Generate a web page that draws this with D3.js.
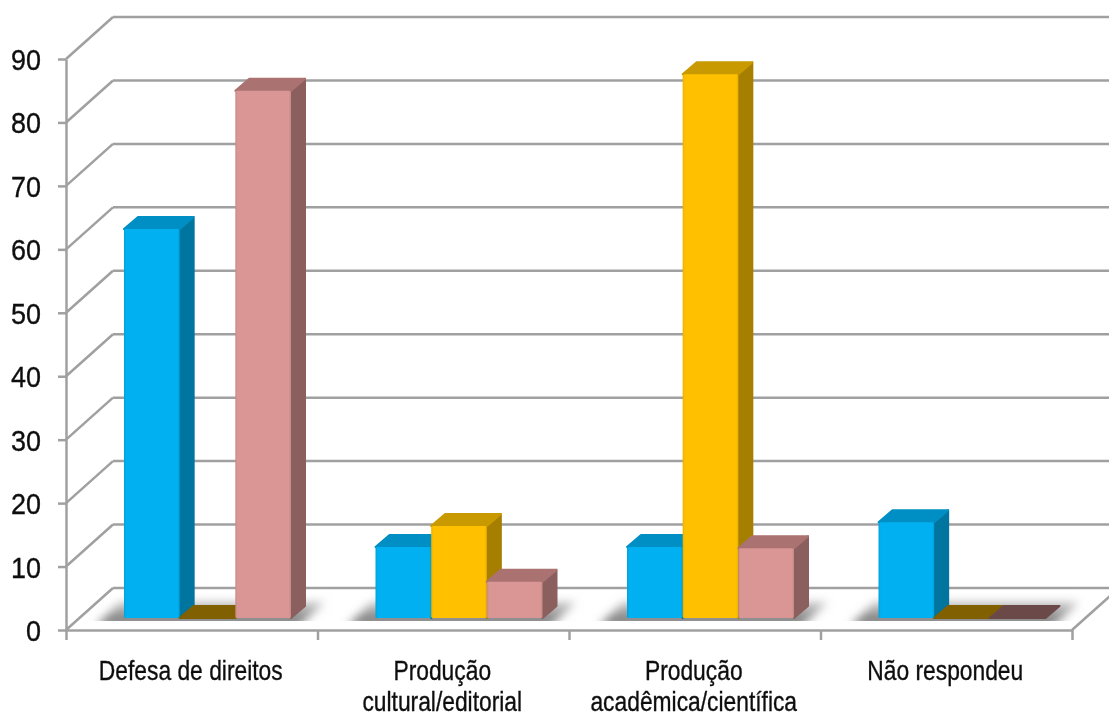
<!DOCTYPE html>
<html>
<head>
<meta charset="utf-8">
<script src="https://cdn.jsdelivr.net/npm/d3@7"></script>
<style>
	html, body { margin: 0; padding: 0; background: #fff; overflow: hidden; }
	text { font-family: "Liberation Sans", Arial, sans-serif; fill: #111; stroke: #111; stroke-width: 0.35; }
	.axis path, .axis line { stroke: #a0a0a0; stroke-width: 2.5; }
</style>
</head>
<body>
<svg id="chart" width="1109" height="717"></svg>
<script>
// ---------- DATA ----------
const categories = [
	["Defesa de direitos"],
	["Produção", "cultural/editorial"],
	["Produção", "acadêmica/científica"],
	["Não respondeu"],
];
const seriesNames = ["blue", "gold", "pink"];
const blueValues = [61.3, 11.2, 11.2, 15.1];
const goldValues = [0, 14.5, 85.7, 0];
const pinkValues = [83.1, 5.7, 11, 0];
const yTicks = [0, 10, 20, 30, 40, 50, 60, 70, 80, 90];

const colors = {
	blue: { front: "#00b0f0", top: "#008fc4", side: "#00749f", flat: "#806000" },
	gold: { front: "#ffc000", top: "#c99a00", side: "#a67f00", flat: "#806000" },
	pink: { front: "#d99694", top: "#aa7270", side: "#8c5f5f", flat: "#6c4a4a" },
};

// ---------- LAYOUT ----------
const plot = { left: 66, right: 1072, top: 59, bottom: 630 };
const wall = { dx: 47, dy: -42 }; // depth of the floor
const bar = { dx: 14, dy: -12, baseDy: -12, start: 58, end: 225 };
const gridColor = "#a0a0a0";

const svg = d3.select("#chart");
const defs = svg.append("defs");

defs.append("filter")
	.attr("id", "shadowBlur")
	.attr("x", "-20%").attr("y", "-60%")
	.attr("width", "140%").attr("height", "220%")
	.append("feGaussianBlur")
	.attr("stdDeviation", 5);

defs.append("filter")
	.attr("id", "soft")
	.append("feGaussianBlur")
	.attr("stdDeviation", 0.5);

defs.append("clipPath")
	.attr("id", "floorClip")
	.append("rect")
	.attr("x", plot.left)
	.attr("y", plot.bottom + wall.dy)
	.attr("width", 1109 - plot.left)
	.attr("height", -wall.dy - 9);

const shadowGrad = defs.append("linearGradient")
	.attr("id", "shadowGrad")
	.attr("x1", 0).attr("x2", 0).attr("y1", 1).attr("y2", 0);
shadowGrad.append("stop").attr("offset", 0).attr("stop-color", "#666");
shadowGrad.append("stop").attr("offset", 1).attr("stop-color", "#ccc");

// bevel on the front of each bar
seriesNames.forEach((s) => {
	const g = defs.append("linearGradient").attr("id", `front_${s}`);
	const c = d3.color(colors[s].front);
	g.append("stop").attr("offset", 0).attr("stop-color", c.darker(0.25));
	g.append("stop").attr("offset", 0.04).attr("stop-color", c);
	g.append("stop").attr("offset", 0.96).attr("stop-color", c);
	g.append("stop").attr("offset", 1).attr("stop-color", c.darker(0.25));
});

// scales
const y = d3.scaleLinear().domain([0, 90]).range([plot.bottom, plot.top]);
const x = d3.scaleLinear().domain([0, categories.length]).range([plot.left, plot.right]);
const xBar = d3.scaleBand().domain(seriesNames).range([bar.start, bar.end]);
const seriesValues = { blue: blueValues, gold: goldValues, pink: pinkValues };

const root = svg.append("g").attr("filter", "url(#soft)");

// back wall lines + the diagonals on the left side
const grid = root.append("g");
grid.selectAll(".back")
	.data(yTicks)
	.enter()
	.append("line")
	.attr("x1", plot.left + wall.dx)
	.attr("x2", 1109)
	.attr("y1", (d) => y(d) + wall.dy)
	.attr("y2", (d) => y(d) + wall.dy)
	.attr("stroke", gridColor)
	.attr("stroke-width", 2.5);
grid.selectAll(".diag")
	.data(yTicks)
	.enter()
	.append("line")
	.attr("x1", plot.left)
	.attr("x2", plot.left + wall.dx)
	.attr("y1", (d) => y(d))
	.attr("y2", (d) => y(d) + wall.dy)
	.attr("stroke", gridColor)
	.attr("stroke-width", 2.5);
// right edge of the floor
grid.append("line")
	.attr("x1", plot.right)
	.attr("x2", plot.right + wall.dx)
	.attr("y1", y(0))
	.attr("y2", y(0) + wall.dy)
	.attr("stroke", gridColor)
	.attr("stroke-width", 2.5);

// shadows on the floor
const base = y(0) + bar.baseDy;
const shadows = root.append("g").attr("clip-path", "url(#floorClip)");
categories.forEach((c, i) => {
	const left = x(i) + bar.start;
	const right = x(i) + bar.end;
	shadows.append("polygon")
		.attr("points", [
			[left - 28, base + 8],
			[right + 8, base + 8],
			[right + 34, base - 16],
			[left - 4, base - 16],
		].join(" "))
		.attr("fill", "url(#shadowGrad)")
		.attr("filter", "url(#shadowBlur)");
});

// bars
const bars = root.append("g");
categories.forEach((c, i) => {
	seriesNames.forEach((s) => {
		const v = seriesValues[s][i];
		const x0 = x(i) + xBar(s);
		const x1 = x0 + xBar.bandwidth();
		const yTop = y(v) + bar.baseDy;
		const g = bars.append("g").attr("stroke-linejoin", "round").attr("stroke-width", 2);
		const topFill = v === 0 ? colors[s].flat : colors[s].top;
		if (v > 0) {
			g.append("polygon")
				.attr("points", [
					[x1, base],
					[x1 + bar.dx, base + bar.dy],
					[x1 + bar.dx, yTop + bar.dy],
					[x1, yTop],
				].join(" "))
				.attr("fill", colors[s].side)
				.attr("stroke", colors[s].side);
		}
		g.append("polygon")
			.attr("points", [
				[x0, yTop],
				[x1, yTop],
				[x1 + bar.dx, yTop + bar.dy],
				[x0 + bar.dx, yTop + bar.dy],
			].join(" "))
			.attr("fill", topFill)
			.attr("stroke", topFill);
		if (v > 0) {
			g.append("rect")
				.attr("x", x0)
				.attr("y", yTop)
				.attr("width", xBar.bandwidth())
				.attr("height", base - yTop)
				.attr("rx", 1.5)
				.attr("fill", `url(#front_${s})`);
		}
	});
});

// axes
const yAxis = root.append("g")
	.attr("class", "axis")
	.attr("transform", `translate(${plot.left},0)`)
	.call(d3.axisLeft(y).tickValues(yTicks).tickSize(8).tickSizeOuter(0).tickFormat(""));
yAxis.select(".domain").attr("fill", "none");

const xAxis = root.append("g")
	.attr("class", "axis")
	.attr("transform", `translate(0,${plot.bottom})`)
	.call(d3.axisBottom(x).tickValues(d3.range(categories.length + 1)).tickSize(10).tickSizeOuter(0).tickFormat(""));
xAxis.select(".domain").attr("fill", "none");

// tick labels, squeezed sideways like the stretched original
root.append("g")
	.selectAll("text")
	.data(yTicks)
	.enter()
	.append("text")
	.attr("transform", (d) => `translate(41,${y(d) + 11}) scale(0.93,1)`)
	.attr("text-anchor", "end")
	.attr("font-size", 29)
	.text((d) => d);

const labels = root.append("g");
categories.forEach((lines, i) => {
	lines.forEach((line, j) => {
		labels.append("text")
			.attr("transform", `translate(${x(i + 0.5) - 1},${680 + j * 31}) scale(0.845,1)`)
			.attr("text-anchor", "middle")
			.attr("font-size", 27)
			.text(line);
	});
});
</script>
</body>
</html>
